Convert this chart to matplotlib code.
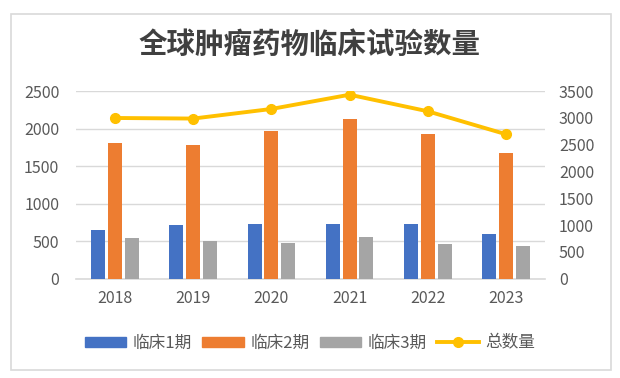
import matplotlib
matplotlib.use("Agg")
import matplotlib.pyplot as plt
import numpy as np
from matplotlib.patches import Rectangle
from matplotlib.lines import Line2D

plt.rcParams['font.family'] = ['Noto Sans CJK SC', 'DejaVu Sans']

years = ['2018', '2019', '2020', '2021', '2022', '2023']
phase1 = [648, 714, 727, 735, 735, 594]
phase2 = [1805, 1778, 1964, 2124, 1924, 1672]
phase3 = [541, 501, 475, 554, 457, 432]
total = [2997, 2986, 3165, 3431, 3122, 2694]
series_names = ['临床1期', '临床2期', '临床3期', '总数量']
title = '全球肿瘤药物临床试验数量'

c_blue, c_orange, c_gray, c_line = '#4472C4', '#ED7D31', '#A5A5A5', '#FFC000'
tick_color = '#595959'

fig = plt.figure(figsize=(6.2, 3.78), dpi=100)
fig.patches.append(Rectangle((11/620, 1-370/378), 600/620, 356/378, transform=fig.transFigure,
                             fill=False, edgecolor='#D9D9D9', linewidth=1.2))
ax = fig.add_axes([76/620, 1-278.7/378, 469/620, (278.7-91)/378])
x = np.arange(len(years))
w = 0.18
off = 0.215
ax.bar(x - off, phase1, w, color=c_blue, label=series_names[0], zorder=3)
ax.bar(x, phase2, w, color=c_orange, label=series_names[1], zorder=3)
ax.bar(x + off, phase3, w, color=c_gray, label=series_names[2], zorder=3)
ax.set_xlim(-0.5, len(years) - 0.5)
ax.set_ylim(0, 2500)
ax.set_yticks(np.arange(0, 2501, 500))
ax.set_xticks(x)
ax.set_xticklabels(years)
ax.grid(axis='y', color='#D9D9D9', linewidth=1, zorder=0)
for s in ['top', 'left', 'right']:
    ax.spines[s].set_visible(False)
ax.spines['bottom'].set_color('#D9D9D9')
ax.spines['bottom'].set_linewidth(1.2)
ax.tick_params(axis='both', length=0, colors=tick_color, labelsize=11.5)
ax.tick_params(axis='y', pad=12)
ax.tick_params(axis='x', pad=8)

ax2 = ax.twinx()
ax2.plot(x, total, color=c_line, linewidth=2.8, marker='o', markersize=7, zorder=4)
ax2.set_ylim(0, 3500)
ax2.set_yticks(np.arange(0, 3501, 500))
for s in ['top', 'left', 'right', 'bottom']:
    ax2.spines[s].set_visible(False)
ax2.tick_params(axis='y', length=0, colors=tick_color, labelsize=11.5, pad=10)

fig.text(0.5, 1-45/378, title, ha='center', va='center', fontsize=20.5,
         fontweight='bold', color='#404040')

handles = [Rectangle((0, 0), 1, 1, color=c_blue), Rectangle((0, 0), 1, 1, color=c_orange),
           Rectangle((0, 0), 1, 1, color=c_gray),
           Line2D([0], [0], color=c_line, linewidth=2.8, marker='o', markersize=7)]
leg = fig.legend(handles, series_names, loc='center', bbox_to_anchor=(0.5, 1-343/378), ncol=4,
                 frameon=False, fontsize=12, handlelength=2.5, handleheight=0.55,
                 handletextpad=0.4, columnspacing=0.6)
for t in leg.get_texts():
    t.set_color(tick_color)

fig.savefig('out.png', dpi=100)
